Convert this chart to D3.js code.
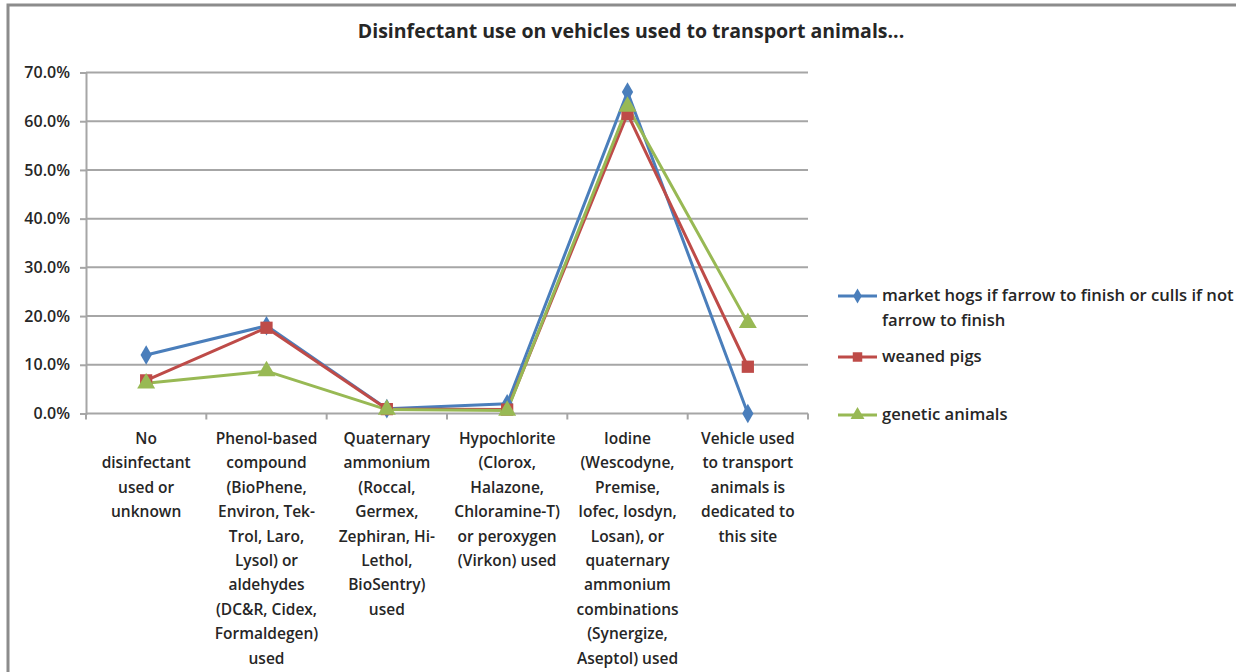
<!DOCTYPE html>
<html><head><meta charset="utf-8">
<script src="https://cdn.jsdelivr.net/npm/d3@7"></script>
<style>
body{margin:0;background:#fff;}
text{font-family:"Open Sans",Lato,sans-serif;fill:#262626;}
</style></head>
<body><svg id="c" width="1236" height="672"></svg>
<script>
const title = "Disinfectant use on vehicles used to transport animals...";
const categories = [
  ["No","disinfectant","used or","unknown"],
  ["Phenol-based","compound","(BioPhene,","Environ, Tek-","Trol, Laro,","Lysol) or","aldehydes","(DC&R, Cidex,","Formaldegen)","used"],
  ["Quaternary","ammonium","(Roccal,","Germex,","Zephiran, Hi-","Lethol,","BioSentry)","used"],
  ["Hypochlorite","(Clorox,","Halazone,","Chloramine-T)","or peroxygen","(Virkon) used"],
  ["Iodine","(Wescodyne,","Premise,","Iofec, Iosdyn,","Losan), or","quaternary","ammonium","combinations","(Synergize,","Aseptol) used"],
  ["Vehicle used","to transport","animals is","dedicated to","this site"]
];
const legendLines = [["market hogs if farrow to finish or culls if not","farrow to finish"],["weaned pigs"],["genetic animals"]];
const marketHogs = [0.120, 0.180, 0.010, 0.020, 0.660, 0.000];
const weanedPigs = [0.068, 0.176, 0.009, 0.008, 0.615, 0.096];
const geneticAnimals = [0.062, 0.087, 0.008, 0.006, 0.630, 0.186];
const yTicks = [0,0.1,0.2,0.3,0.4,0.5,0.6,0.7];
const colors = ["#4a7ebb","#be4b48","#98b954"];
const markers = [d3.symbolDiamond, d3.symbolSquare, d3.symbolTriangle];
const markerSizes = [110, 150, 140];

const svg = d3.select("#c");
svg.append("rect").attr("x",8).attr("y",5).attr("width",1240).attr("height",700)
  .attr("fill","none").attr("stroke","#8c8c8c").attr("stroke-width",3);

const L=86, R=808, T=72.5, B=413.5;
const x = d3.scalePoint().domain(d3.range(categories.length)).range([L,R]).padding(0.5);
const xb = d3.scaleLinear().domain([0,categories.length]).range([L,R]);
const y = d3.scaleLinear().domain([0,0.7]).range([B,T]);

svg.append("text").attr("x",631).attr("y",38).attr("text-anchor","middle")
  .style("font-size","19.5px").style("font-weight","700").text(title);

svg.append("g").selectAll("line").data(yTicks).join("line")
  .attr("x1",L).attr("x2",R).attr("y1",d=>y(d)).attr("y2",d=>y(d))
  .attr("stroke","#a6a6a6").attr("stroke-width",2);

const ya = svg.append("g").attr("transform",`translate(${L},0)`)
  .call(d3.axisLeft(y).tickValues(yTicks).tickFormat(d3.format(".1%")).tickSize(6).tickPadding(10));
ya.select(".domain").attr("stroke","#a6a6a6").attr("stroke-width",2);
ya.selectAll(".tick line").attr("stroke","#a6a6a6").attr("stroke-width",2);
ya.selectAll("text").style("font-size","16px").style("font-weight","600").attr("fill","#262626")
  .style("font-family","'Open Sans',sans-serif");

svg.append("g").selectAll("line").data(d3.range(categories.length+1)).join("line")
  .attr("x1",d=>xb(d)).attr("x2",d=>xb(d)).attr("y1",B).attr("y2",B+6)
  .attr("stroke","#a6a6a6").attr("stroke-width",2);

const cl = svg.append("g").selectAll("text").data(categories).join("text")
  .attr("text-anchor","middle").style("font-size","15.5px").style("font-weight","600");
cl.each(function(lines,i){
  d3.select(this).selectAll("tspan").data(lines).join("tspan")
    .attr("x",x(i)).attr("y",(d,j)=>444+j*24.4).text(d=>d);
});

const seriesData = [marketHogs, weanedPigs, geneticAnimals];
const line = d3.line().x((d,i)=>x(i)).y(d=>y(d));
seriesData.forEach((s,k)=>{
  svg.append("path").datum(s).attr("d",line).attr("fill","none")
    .attr("stroke",colors[k]).attr("stroke-width",3).attr("stroke-linejoin","round");
});
seriesData.forEach((s,k)=>{
  svg.append("g").selectAll("path").data(s).join("path")
    .attr("d",d3.symbol().type(markers[k]).size(markerSizes[k]))
    .attr("transform",(d,i)=>`translate(${x(i)},${y(d)})`)
    .attr("fill",colors[k]);
});

const legY = [296, 357, 415];
legendLines.forEach((lines,k)=>{
  const g = svg.append("g");
  g.append("line").attr("x1",838).attr("x2",877).attr("y1",legY[k]).attr("y2",legY[k])
    .attr("stroke",colors[k]).attr("stroke-width",3);
  g.append("path").attr("d",d3.symbol().type(markers[k]).size(markerSizes[k]*0.6)())
    .attr("transform",`translate(857.5,${legY[k]})`).attr("fill",colors[k]);
  const t = g.append("text").style("font-size","16.6px").style("font-weight","600");
  t.selectAll("tspan").data(lines).join("tspan").attr("x",882)
    .attr("y",(d,j)=>legY[k]+5+j*25).text(d=>d);
});
</script></body></html>
